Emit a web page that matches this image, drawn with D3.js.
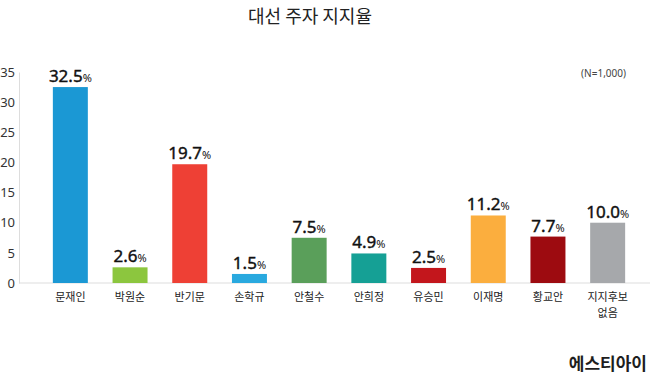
<!DOCTYPE html>
<html>
<head>
<meta charset="utf-8">
<script src="https://cdnjs.cloudflare.com/ajax/libs/d3/7.8.5/d3.min.js"></script>
<style>
  body { margin: 0; background: #fff; }
  svg { display: block; font-family: "Noto Sans CJK KR", "Noto Sans", sans-serif; }
</style>
</head>
<body>
<div id="chart"></div>
<script>
// chart data
var candidates = ["문재인", "박원순", "반기문", "손학규", "안철수", "안희정", "유승민", "이재명", "황교안", "지지후보\n없음"]
var support = [32.5, 2.6, 19.7, 1.5, 7.5, 4.9, 2.5, 11.2, 7.7, 10.0]
var barColors = ["#1b98d4", "#8cc63e", "#ee4035", "#29a9df", "#5a9f5a", "#15a095", "#c3161c", "#fbae3e", "#9d0b10", "#a6a8ab"]
var yTicks = [0, 5, 10, 15, 20, 25, 30, 35]

var width = 655, height = 376
var svg = d3.select("#chart").append("svg").attr("width", width).attr("height", height)

var x = d3.scaleBand().domain(candidates).range([23, 655]).paddingInner(0.414).paddingOuter(0.5)
var y = d3.scaleLinear().domain([0, 35]).range([283, 72])

// title
svg.append("text").attr("x", 310).attr("y", 23).attr("text-anchor", "middle")
  .attr("font-size", 18).attr("fill", "#222").text("대선 주자 지지율")

svg.append("text").attr("x", 626).attr("y", 77).attr("text-anchor", "end")
  .attr("font-size", 10).attr("fill", "#444").attr("font-family", "Noto Sans").text("(N=1,000)")

// axes (light lines, labels only)
var yAxis = svg.append("g").attr("transform", "translate(19,0)")
  .call(d3.axisLeft(y).tickValues(yTicks).tickSize(0).tickPadding(4))
yAxis.select(".domain").attr("stroke", "#ddd")
yAxis.selectAll("text").attr("font-size", 13).attr("fill", "#333").attr("font-family", "Noto Sans")

svg.append("line").attr("x1", 19).attr("x2", 650).attr("y1", y(0)).attr("y2", y(0))
  .attr("stroke", "#ddd").attr("stroke-width", 1)

// bars
svg.selectAll(".bar").data(candidates).join("rect").attr("class", "bar")
  .attr("x", d => x(d)).attr("width", x.bandwidth())
  .attr("y", (d, i) => y(support[i])).attr("height", (d, i) => y(0) - y(support[i]))
  .attr("fill", (d, i) => barColors[i])

// value labels with smaller %
var vl = svg.selectAll(".val").data(candidates).join("text").attr("class", "val")
  .attr("x", d => x(d) + x.bandwidth() / 2).attr("y", (d, i) => y(support[i]) - 5)
  .attr("text-anchor", "middle").attr("fill", "#111").attr("font-family", "Noto Sans")
vl.append("tspan").attr("font-size", 17).attr("stroke", "#111").attr("stroke-width", 0.4)
  .text((d, i) => support[i].toFixed(1))
vl.append("tspan").attr("font-size", 11).text("%")

// category labels
var cl = svg.selectAll(".cat").data(candidates).join("text").attr("class", "cat")
  .attr("x", d => x(d) + x.bandwidth() / 2).attr("y", 301)
  .attr("text-anchor", "middle").attr("font-size", 11).attr("fill", "#222")
cl.selectAll("tspan").data(d => d.split("\n")).join("tspan")
  .attr("x", function () { return d3.select(this.parentNode).attr("x") })
  .attr("dy", (d, i) => i ? 16 : 0).text(d => d)

// logo
svg.append("text").attr("x", 647).attr("y", 370).attr("text-anchor", "end")
  .attr("font-size", 17).attr("font-weight", 700).attr("fill", "#1e1e1e").text("에스티아이")
</script>
</body>
</html>
